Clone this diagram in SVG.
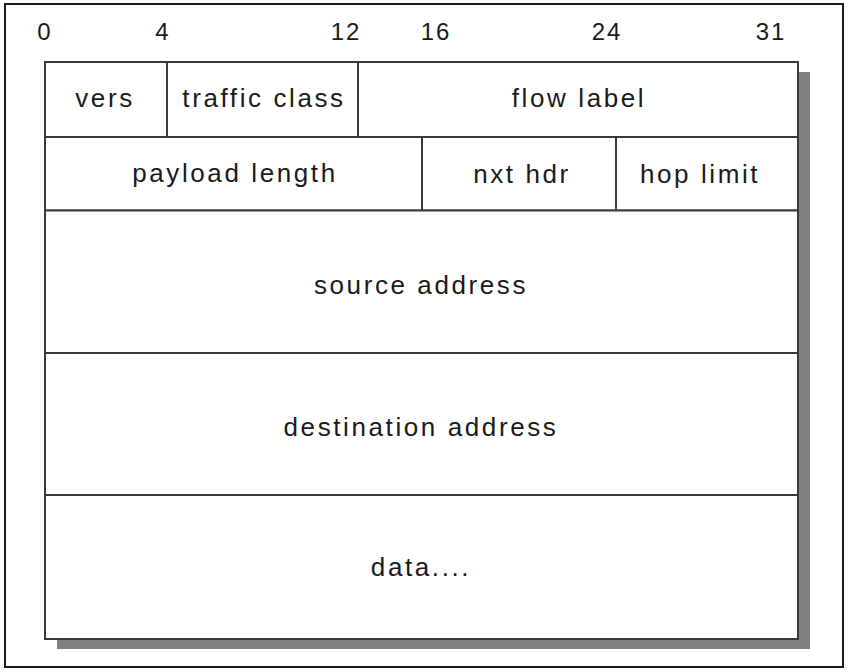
<svg xmlns="http://www.w3.org/2000/svg" width="850" height="672" viewBox="0 0 850 672">
  <style>
    .cell { fill: #ffffff; stroke: #3a3a3a; stroke-width: 2; }
    .lbl { font-family: "Liberation Sans", Arial, sans-serif; font-size: 26px; letter-spacing: 2.6px; fill: #1a1a1a; text-anchor: middle; }
    .num { font-family: "Liberation Sans", Arial, sans-serif; font-size: 24px; letter-spacing: 2px; fill: #1a1a1a; text-anchor: middle; }
  </style>
  <rect x="0" y="0" width="850" height="672" fill="#ffffff"/>
  <rect id="frame" x="5" y="4" width="838" height="663" fill="#ffffff" stroke="#1a1a1a" stroke-width="2"/>
  <g id="bit-scale">
    <text class="num" x="45" y="40">0</text>
    <text class="num" x="163" y="40">4</text>
    <text class="num" x="346" y="40">12</text>
    <text class="num" x="436" y="40">16</text>
    <text class="num" x="607" y="40">24</text>
    <text class="num" x="771" y="40">31</text>
  </g>
  <rect id="shadow" x="57" y="72" width="753" height="577" fill="#808080"/>
  <g id="vers"><rect class="cell" x="45" y="62" width="122" height="75"/><text class="lbl" x="105" y="107">vers</text></g>
  <g id="traffic-class"><rect class="cell" x="167" y="62" width="191" height="75"/><text class="lbl" x="264" y="107">traffic class</text></g>
  <g id="flow-label"><rect class="cell" x="358" y="62" width="440" height="75"/><text class="lbl" x="579" y="107">flow label</text></g>
  <g id="payload-length"><rect class="cell" x="45" y="137" width="377" height="73.5"/><text class="lbl" x="235" y="182">payload length</text></g>
  <g id="nxt-hdr"><rect class="cell" x="422" y="137" width="194" height="73.5"/><text class="lbl" x="522" y="183">nxt hdr</text></g>
  <g id="hop-limit"><rect class="cell" x="616" y="137" width="182" height="73.5"/><text class="lbl" x="700" y="183">hop limit</text></g>
  <g id="source-address"><rect class="cell" x="45" y="210.5" width="753" height="142.5"/><text class="lbl" x="421" y="294">source address</text></g>
  <g id="destination-address"><rect class="cell" x="45" y="353" width="753" height="142"/><text class="lbl" x="421" y="436">destination address</text></g>
  <g id="data"><rect class="cell" x="45" y="495" width="753" height="144"/><text class="lbl" x="421" y="576">data....</text></g>
  <g id="connectors"></g>
</svg>
